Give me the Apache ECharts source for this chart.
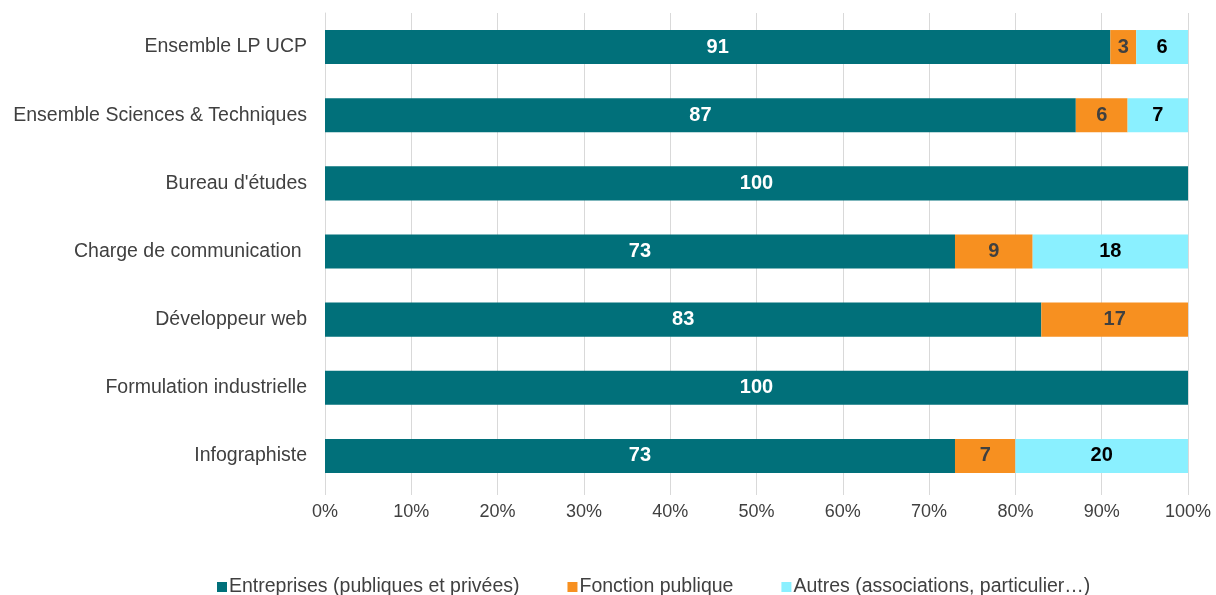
<!DOCTYPE html>
<html>
<head>
<meta charset="utf-8">
<script src="https://cdn.jsdelivr.net/npm/echarts@6/dist/echarts.min.js"></script>
<style>
  html, body { margin: 0; padding: 0; background: #fff; }
  #chart { width: 1216px; height: 595px; }
</style>
</head>
<body>
<div id="chart"></div>
<script>
const categories = [
  'Ensemble LP UCP',
  'Ensemble Sciences & Techniques',
  "Bureau d'études",
  'Charge de communication ',
  'Développeur web',
  'Formulation industrielle',
  'Infographiste'
]
const entreprises = [91, 87, 100, 73, 83, 100, 73]
const fonctionPublique = [3, 6, 0, 9, 17, 0, 7]
const autres = [6, 7, 0, 18, 0, 0, 20]
const xTicks = [0, 10, 20, 30, 40, 50, 60, 70, 80, 90, 100]

const font = '"Liberation Sans", Arial, sans-serif'

const chart = echarts.init(document.getElementById('chart'), null, { renderer: 'canvas' })

const mkSeries = (name, data, color, labelColor) => ({
  name,
  type: 'bar',
  stack: 'total',
  barWidth: '50%',
  data,
  itemStyle: { color },
  label: {
    show: true,
    position: 'inside',
    color: labelColor,
    fontFamily: font,
    fontWeight: 'bold',
    fontSize: 20,
    formatter: p => (p.value > 0 ? p.value : '')
  }
})

chart.setOption({
  animation: false,
  textStyle: { fontFamily: font },
  grid: { left: 325, right: 28, top: 13, bottom: 105, containLabel: false },
  legend: {
    top: 572,
    left: 212,
    itemWidth: 10,
    itemHeight: 10,
    itemGap: 48,
    icon: 'rect',
    textStyle: { fontSize: 19.5, color: '#404040', fontFamily: font, padding: [0, 0, 0, -3] },
    data: ['Entreprises (publiques et privées)', 'Fonction publique', 'Autres (associations, particulier…)']
  },
  xAxis: {
    type: 'value',
    min: 0,
    max: 100,
    interval: 10,
    axisLine: { show: false },
    axisTick: { show: true, length: 5, lineStyle: { color: '#d9d9d9' } },
    axisLabel: {
      fontSize: 18,
      color: '#404040',
      margin: 13,
      formatter: v => (xTicks.includes(v) ? v + '%' : '')
    },
    splitLine: { show: true, lineStyle: { color: '#d9d9d9', width: 1 } }
  },
  yAxis: {
    type: 'category',
    inverse: true,
    data: categories,
    axisLine: { show: true, lineStyle: { color: '#d9d9d9' } },
    axisTick: { show: false },
    axisLabel: { fontSize: 19.5, color: '#404040', margin: 18 }
  },
  series: [
    mkSeries('Entreprises (publiques et privées)', entreprises, '#01707a', '#ffffff'),
    mkSeries('Fonction publique', fonctionPublique, '#f79020', '#404040'),
    mkSeries('Autres (associations, particulier…)', autres, '#8af0ff', '#000000')
  ]
})
</script>
</body>
</html>
